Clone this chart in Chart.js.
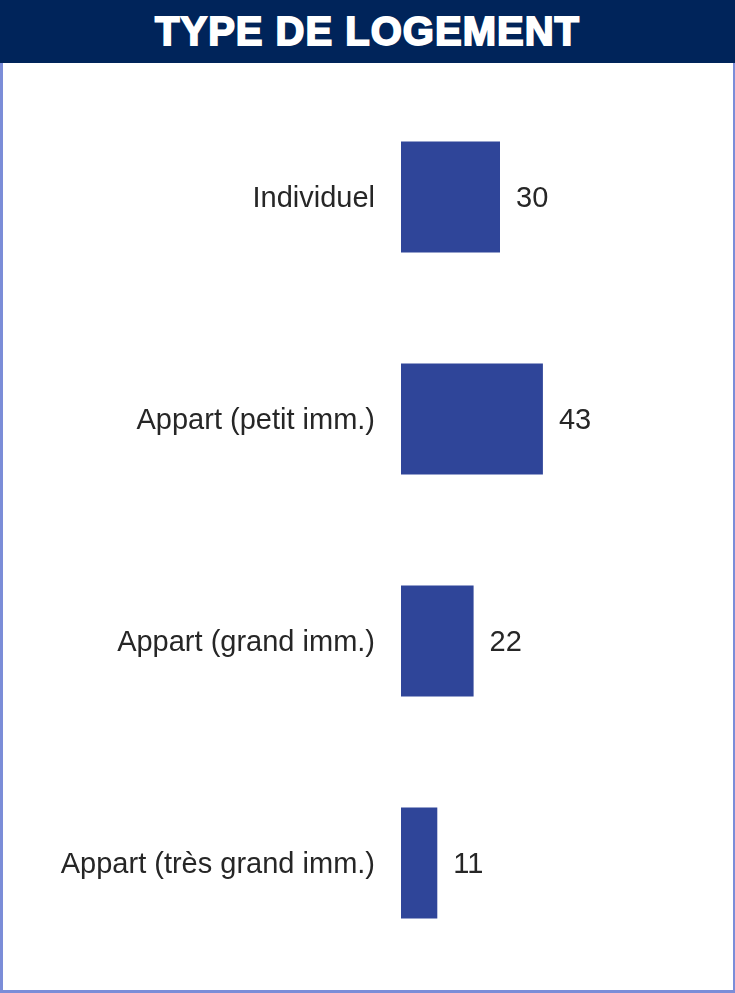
<!DOCTYPE html>
<html>
<head>
<meta charset="utf-8">
<script src="https://cdn.jsdelivr.net/npm/chart.js@4"></script>
<style>
  body { margin: 0; background: #fff; }
  #frame { position: relative; width: 735px; height: 993px; overflow: hidden; }
  #header {
    position: absolute; left: 0; top: 0; width: 735px; height: 63px;
    background: #00245a; color: #fff; text-align: center;
    font: bold 40px "Liberation Sans", Arial, sans-serif; line-height: 63px;
    -webkit-text-stroke: 1.8px #fff; letter-spacing: 1px;
  }
  .edge { position: absolute; background: #7b8dd8; }
  #chart { position: absolute; left: 0; top: 0; }
</style>
</head>
<body>
<div id="frame">
  <div id="header">TYPE DE LOGEMENT</div>
  <div class="edge" style="left:0;top:63px;width:3px;height:930px"></div>
  <div class="edge" style="right:0;top:63px;width:2px;height:930px"></div>
  <div class="edge" style="left:0;bottom:0;width:735px;height:3px"></div>
  <canvas id="chart" width="735" height="993"></canvas>
</div>
<script>
var categories = ['Individuel', 'Appart (petit imm.)', 'Appart (grand imm.)', 'Appart (très grand imm.)'];
var values = [30, 43, 22, 11];

var textFont = { family: '"Liberation Sans", Arial, sans-serif', size: 29 };

// writes each value just right of its bar
var valueLabels = {
    id: 'valueLabels',
    afterDatasetsDraw: function(chart){
        var ctx = chart.ctx;
        var meta = chart.getDatasetMeta(0);
        ctx.save();
        ctx.font = textFont.size + 'px ' + textFont.family;
        ctx.fillStyle = '#262626';
        ctx.textAlign = 'left';
        ctx.textBaseline = 'middle';
        meta.data.forEach(function(bar, i){
            ctx.fillText(values[i], bar.x + 16, bar.y + 2);
        });
        ctx.restore();
    }
};

var canvas = document.getElementById('chart').getContext('2d');
var chart = new Chart(canvas, {
    type: 'bar',
    data: {
        labels: categories,
        datasets: [{
            data: values,
            backgroundColor: '#2f4599',
            borderWidth: 0,
            categoryPercentage: 1,
            barPercentage: 0.5
        }]
    },
    options: {
        indexAxis: 'y',
        responsive: false,
        animation: false,
        layout: { padding: { top: 86, bottom: 19, right: 4, left: 0 } },
        plugins: {
            legend: { display: false },
            tooltip: { enabled: false }
        },
        scales: {
            x: { display: false, min: 0, max: 100 },
            y: {
                grid: { display: false, drawTicks: false },
                border: { display: false },
                ticks: { color: '#262626', font: textFont, padding: 26, labelOffset: 2 },
                afterFit: function(scale){
                    scale.width = 401;
                    // keep the label padding from eating into the plot height
                    scale.paddingTop = 0;
                    scale.paddingBottom = 0;
                }
            }
        }
    },
    plugins: [valueLabels]
});
</script>
</body>
</html>
